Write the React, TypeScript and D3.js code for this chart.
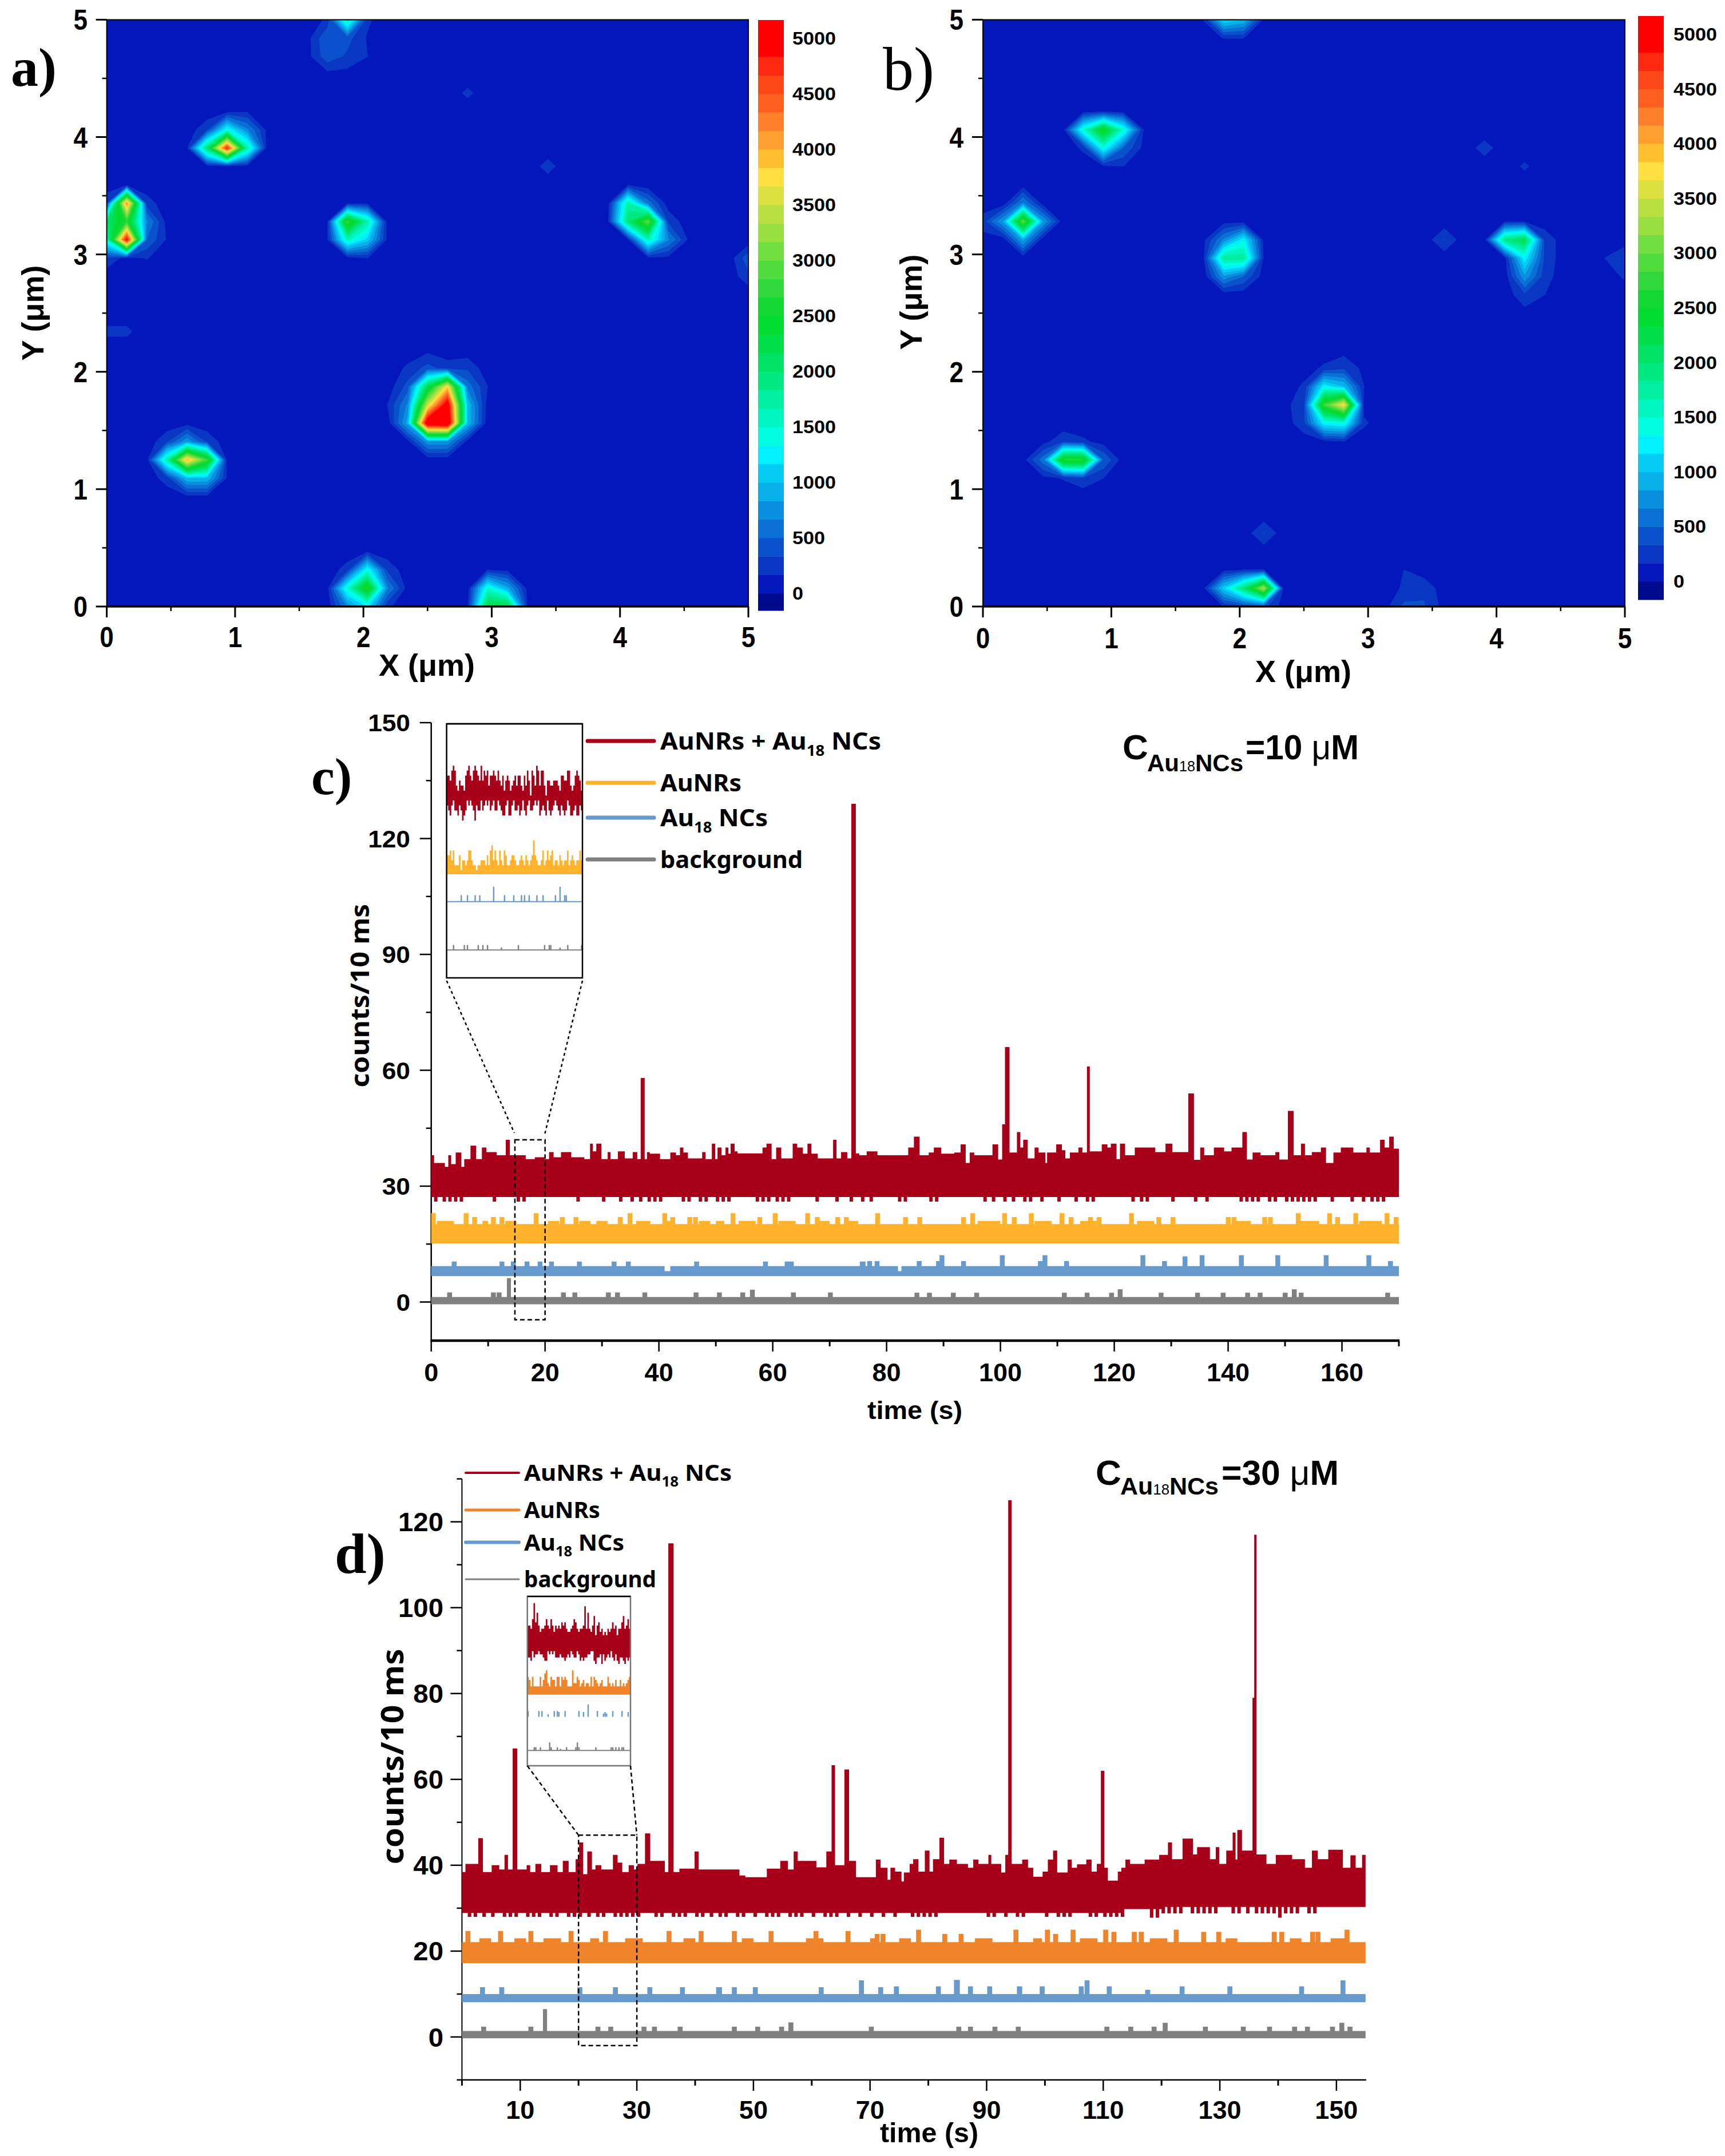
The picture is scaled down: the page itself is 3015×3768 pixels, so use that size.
import React from "react";
import * as d3 from "d3";

// ---- scanning maps (a, b): 33 x 33 grid, step 5/32 um. rows are [j, first i, values]
const gridN = 33;
const mapBackground = 60;
const mapARows = [
  [23, 1, [100]], [22, 0, [300, 4200, 250]], [21, 0, [2000, 2700, 700, 100]], [20, 0, [1500, 5000, 500, 150]], [19, 0, [300, 100, 180]],
  [27, 6, [100, 150]], [26, 5, [300, 1400, 700, 120]], [25, 4, [150, 2000, 4800, 1700, 100]], [24, 5, [100, 100, 100]],
  [22, 12, [120, 120]], [21, 11, [150, 2800, 1700, 80]], [20, 11, [150, 1600, 1100, 120]], [19, 12, [100, 170]],
  [23, 26, [150]], [22, 25, [100, 1700, 600, 80]], [21, 25, [150, 2000, 3000, 300]], [20, 26, [150, 1600, 700, 150]], [19, 27, [120, 120]],
  [14, 16, [120]], [13, 15, [200, 400, 250, 300]], [12, 15, [400, 2200, 3800, 600, 170]], [11, 14, [170, 700, 3500, 5200, 1000, 80]], [10, 15, [900, 5400, 5500, 1000]], [9, 15, [100, 800, 800, 100]],
  [10, 4, [100]], [9, 3, [300, 800, 300]], [8, 2, [100, 1700, 4000, 2800, 100]], [7, 3, [250, 1000, 1000, 150]], [6, 4, [120, 120]],
  [3, 13, [150]], [2, 12, [250, 1400, 300]], [1, 11, [100, 1500, 2700, 700, 100]], [0, 12, [700, 1200, 200]],
  [2, 19, [170, 120]], [1, 18, [80, 1500, 900, 100]], [0, 18, [150, 2300, 2300, 120]],
  [32, 11, [200, 1700, 200]], [31, 10, [100, 500, 400, 150]], [30, 10, [100, 450, 300, 170]], [29, 11, [100, 100]],
  [28, 18, [210]], [24, 22, [240]], [15, 0, [210, 210]], [19, 32, [450]], [18, 32, [280]], [9, 27, [170]],
];
const mapBRows = [
  [23, 2, [80]], [22, 1, [60, 700, 80]], [21, 0, [250, 850, 3000, 850, 60]], [20, 0, [100, 60, 900, 60]],
  [27, 5, [100, 150, 100]], [26, 4, [100, 1500, 2600, 1500, 170]], [25, 5, [200, 1400, 500, 120]], [24, 6, [130, 170]],
  [21, 12, [100, 100]], [20, 11, [120, 700, 1300, 120]], [19, 11, [150, 1800, 1800, 150]], [18, 11, [60, 800, 500, 80]],
  [21, 26, [150, 150]], [20, 25, [100, 1900, 2200, 300]], [19, 26, [100, 1300, 300]], [18, 27, [800, 250]], [17, 27, [300, 170]], [16, 27, [100]],
  [14, 18, [100]], [13, 16, [80, 200, 300, 120]], [12, 16, [200, 1300, 1000, 170]], [11, 15, [100, 300, 2800, 3800, 100]], [10, 16, [300, 1300, 1400, 200]], [9, 17, [120, 170]],
  [9, 3, [100, 300, 200, 100]], [8, 2, [100, 600, 2700, 2700, 500, 80]], [7, 3, [120, 180, 300, 170]],
  [2, 12, [120, 170, 170, 100]], [1, 11, [130, 1100, 2000, 3400, 100]], [0, 12, [170, 300, 400, 80]],
  [32, 11, [170, 1200, 1000, 120]], [31, 11, [130, 170, 170]],
  [2, 21, [170]], [1, 21, [200, 300]], [0, 20, [100, 380, 350, 100]],
  [4, 14, [350]], [20, 23, [350]], [25, 25, [250]], [24, 27, [200]], [19, 31, [170, 350]], [18, 32, [200]],
];
const mapTicks = [0, 1, 2, 3, 4, 5];
const mapMinorTicks = [0.5, 1.5, 2.5, 3.5, 4.5];
const barLabels = [0, 500, 1000, 1500, 2000, 2500, 3000, 3500, 4000, 4500, 5000];
const bandStep = 500 / 3;
const bandColors = [
  "#000A8C", "#0317BA", "#0A36C4", "#0A52CC", "#0A70D6", "#0A8EE0", "#08B0EA", "#04CCF4",
  "#00F0FF", "#00FFE0", "#00F6C0", "#00EFA0", "#00E880", "#00E264", "#00DE48", "#00DC30",
  "#10D830", "#30D83C", "#50DC3C", "#70DE40", "#98E040", "#B8E040", "#DCE040", "#FFE040",
  "#FFC030", "#FFA030", "#FF8028", "#FF6020", "#FF4818", "#FF2810", "#FF0000", "#FF0000",
];

// ---- time traces: envelope steps are [time, counts]; marks are [time, counts, width]
const cRedTop = [
  [0, 38], [0.5, 36], [2.4, 35], [3, 38], [3.5, 35.7], [4.3, 38.7], [5.3, 35], [5.8, 37], [6.9, 40.5], [7.9, 37], [8.9, 40], [9.7, 38.8], [11.5, 38], [13.1, 42], [13.8, 38], [16.6, 37], [18.2, 37.5], [19.9, 37], [20.7, 38.8], [21.5, 37.5], [22.8, 38.8], [24.6, 37.5], [26.9, 37], [27.9, 41], [28.4, 39], [29, 41], [29.9, 37], [31, 38.8], [31.5, 37], [32.8, 39], [34, 37.2], [35.4, 38.8], [36.2, 37], [36.8, 58], [37.5, 37], [37.9, 38.8], [38.4, 38.4], [40.2, 37], [42, 38.7], [43, 38], [43.7, 40], [44.3, 38.7], [45.1, 37.2], [47.6, 38.8], [48.2, 37], [49.3, 41], [49.9, 37], [50.3, 40], [51, 38], [51.7, 40], [52.2, 38.4], [52.6, 41], [53.3, 39], [53.8, 38.5], [58.2, 40], [58.9, 41], [59.8, 37], [60.6, 40], [61.5, 37.2], [63.5, 41], [64.3, 40], [65.3, 38.4], [66.1, 41], [66.8, 38.4], [67.9, 37.2], [70.6, 42], [71.2, 37.2], [72, 38.8], [73.1, 37.2], [73.8, 129], [74.6, 38.5],
  [75.2, 38], [76.5, 39], [78.4, 38], [83.8, 40], [84.8, 42.8], [85.8, 38], [87.4, 38.7], [88.3, 40], [89.6, 38.4], [91.9, 38.7], [93, 40.8], [93.9, 36], [94.6, 38.7], [95.4, 38], [98.6, 40.8], [99.6, 36.9], [100.3, 46], [100.8, 66], [101.6, 38.7], [102.9, 44], [103.5, 40], [104, 42], [104.8, 37.2], [106, 40], [106.7, 38.7], [107.9, 36], [108.2, 38.7], [109.8, 40.8], [110.8, 39.3], [111.4, 37.2], [112.2, 38.7], [113.7, 40], [114.4, 38.7], [115.2, 61], [115.7, 39], [117.8, 40.8], [118.8, 40], [119.4, 41], [120.4, 37], [121, 41], [121.9, 38], [123.6, 40], [127.2, 38.8], [129, 41], [130.2, 38.8], [133, 54], [134, 36.8], [135.1, 40], [135.8, 38], [137.5, 40], [139.3, 39], [140.6, 40], [142.5, 44], [143.3, 36.9], [144.3, 38.7], [145.7, 38], [148.3, 38.8], [149, 36.9], [150.5, 49.5], [151.5, 38], [152.8, 41], [153.5, 38], [154.7, 38.8], [156.3, 40], [157.2, 36], [158.5, 38.7], [159.8, 40], [162, 38.7], [164.3, 40], [164.9, 38.7], [166.7, 42], [167.5, 40], [168.3, 42.8], [169.1, 39.7],
];
const cRedDips = [0.5, 2, 3, 4, 5, 10.8, 15, 16, 25.5, 30, 33, 35, 36.5, 38, 39, 40, 44, 45, 47, 48, 50, 51, 52, 57, 58, 59, 60.5, 61.5, 62.5, 67.5, 71, 73.5, 75.5, 77, 82, 83, 87.5, 88.5, 97, 98.5, 100.5, 102, 104, 105, 107, 110, 113, 115, 116, 123, 124.5, 125.5, 130, 134, 136, 142, 143, 144, 145, 147, 148, 150, 151, 152, 153, 154, 155, 158, 161.5, 163.5, 165, 166, 167];
const cOrangeMarks = [
  [1, 21, 3], [9, 21, 1], [13, 21, 2], [20.5, 21, 2], [26, 21, 2], [29, 21, 2], [36, 21, 2.5], [41, 21, 1], [47, 21, 2], [50, 21, 1.5], [54, 21, 3], [61, 21, 3], [68, 21, 2], [73, 21, 2], [96, 21, 4], [106, 21, 3], [114, 21, 3], [124, 21, 3], [141, 21, 3], [152, 21, 4], [163, 21, 4],
  [0, 23, 0.8], [5.7, 23], [7.2, 22], [10.5, 22], [12, 22], [18, 23], [22.6, 22], [25, 22], [32.8, 22], [34.5, 23], [40.6, 23], [42, 22], [45, 22], [46, 22], [52.6, 23], [57.3, 22], [60, 23], [65.7, 23], [67.4, 22], [71, 22], [72.5, 22],
  [78, 23], [82.9, 22], [85.4, 22], [93.1, 22], [94.7, 23], [100.3, 23], [102, 22], [105, 23], [110.4, 23], [112, 22], [115.4, 22], [116.9, 22], [122.6, 23], [127.4, 22], [129.9, 22], [139.6, 22], [140.6, 22], [146, 22], [147, 22], [151.9, 23], [157.4, 23], [158.8, 22], [162, 23], [167.5, 23], [169.1, 22],
];
const cBlueMarks = [
  [3.6, 10.5], [12, 10.5], [14, 10.5], [16.4, 10.5], [18.7, 10.5], [20.7, 10.5], [25.6, 10.5], [31.7, 10.5], [34.2, 10.5], [41, 8, 1], [46.2, 10.5], [58.3, 10.5], [62.1, 10.5, 1.6], [75.3, 10.5, 1],
  [76.6, 10.6], [77.9, 10.6], [82, 8, 0.6], [85.3, 10.6], [88.7, 10.6], [89.3, 12.1], [93.1, 10.6], [99.9, 12.1], [106.6, 10.6], [107.4, 12.1], [111.2, 10.6], [124.6, 12.1], [128.4, 10.6], [132, 11.8], [135, 12.1], [141.9, 12.1], [148.3, 12.1], [156.8, 12.1], [164.3, 12.1], [168.1, 10.6],
];
const cGrayMarks = [
  [2.8, 2.5], [10.5, 2.5], [11.5, 2.5], [13.3, 6.2, 0.7], [22.8, 2.5], [24.8, 2.5], [30.7, 2.5], [32.3, 2.5], [37.1, 2.5], [46.1, 2.5], [50.2, 2.5], [54.3, 2.5], [56, 3.2], [63.2, 2.5], [69.7, 2.5],
  [84.9, 2.4], [87.1, 2.4], [91.3, 2.4], [95.4, 2.4], [110.8, 2.4], [114.8, 2.4], [119.1, 2.4], [120.6, 3.3], [127.8, 2.4], [134.2, 2.4], [138.7, 2.4], [143, 2.4], [145.2, 2.4], [149.6, 2.4], [151.2, 3.3], [152.4, 2.4], [167.6, 2.4],
];
const dRedTop = [
  [0, 38.4], [0.6, 40.3], [2.8, 46.3], [3.6, 38.4], [5.1, 40], [6.4, 39], [7.3, 42.4], [7.9, 39], [8.7, 67.2], [9.5, 39], [11.1, 40], [11.7, 38.4], [12.6, 40.3], [13.6, 38.4], [15.1, 40], [16.4, 38.4], [17.3, 41], [18.3, 38.4], [19.5, 41.4], [20.1, 45.3], [20.8, 37.9], [21.5, 43.2], [22.3, 39], [22.9, 40], [23.9, 39], [25.9, 42.4], [26.7, 40.6], [27.5, 38.4], [28.6, 40], [29.5, 39], [30.1, 40.3], [31.4, 47.4], [32.3, 41], [34.8, 38.4], [35.4, 115], [36.3, 38.4], [37.3, 39.2], [39.9, 43.2], [40.6, 39], [47.6, 37.6], [48.6, 37.2], [52.3, 39.2], [54.6, 41], [55.9, 39], [56.9, 43.2], [57.6, 41], [60.8, 39.5], [62.5, 43.2], [63.4, 63.3], [64, 40], [65.6, 62.3], [66.4, 41], [67.6, 37.2],
  [71, 41.3], [71.8, 39.4], [73, 36.6], [73.5, 39.4], [74.3, 38.5], [75.4, 36.2], [75.8, 38.3], [76.8, 40.3], [77.4, 41.4], [78.3, 38.5], [79.4, 43.4], [80.2, 38.5], [80.8, 41.4], [81.9, 46.4], [82.7, 40.3], [83.6, 41.3], [84.9, 40.3], [86.8, 39.4], [87.7, 41.3], [88.6, 40.3], [90.3, 42.4], [90.8, 40.3], [92.5, 38.3], [93.2, 42.4], [93.7, 125], [94.3, 40.3], [96.1, 41.3], [97.1, 39.4], [98, 37.3], [99.6, 38.5], [100.5, 41.3], [101.4, 43.4], [102.1, 38.3], [103.9, 41.3], [104.6, 39.4], [105.5, 40.2], [107.1, 41.3], [108, 38.5], [108.9, 40.3], [109.6, 62], [110.2, 39.4], [110.8, 36.4], [112.5, 38.5], [113.1, 39.4], [113.8, 41.3], [114.6, 40.3], [117.1, 41.3], [119.6, 42.4], [121.1, 45.3], [121.8, 41.4], [123.6, 46.2], [125.4, 42.5], [126.1, 44.2], [128.3, 41.4], [129.3, 44.2], [129.9, 40.3], [131.1, 43.4], [132.2, 47.6], [132.7, 41.3], [133, 48.2], [133.8, 43.4], [135.6, 79], [135.9, 117], [136.3, 42.5], [138, 40.3], [139.6, 42.4], [142.4, 41.4], [144.6, 39.4], [145.8, 43.4], [146.8, 41.4], [148.6, 43.6], [151.1, 39.4], [152.4, 42.3], [153.3, 39.4], [154.4, 42.4],
];
const dRedBottomBase = [[0, 28.9], [113, 29.8], [120, 30.3]];
const dRedDips = [
  [1, 28], [2, 28], [3.5, 28], [5, 28], [7, 28], [8, 28], [9, 28], [11, 28], [12, 28], [13, 28], [15, 28], [16, 28], [18, 28], [19, 28], [20, 28], [21.5, 28], [23, 28], [24, 28], [26, 28], [27, 28], [28, 28], [29, 28], [30, 28], [33, 28], [34, 28], [36, 28], [37, 28], [38, 28], [40, 28], [41, 28], [42.5, 28], [44, 28], [45, 28], [47, 28], [48, 28], [50, 28], [52, 28], [53, 28], [54, 28], [56, 28], [57, 28], [58, 28], [60, 28], [62, 28], [63, 28], [64, 28], [66, 28], [68, 28], [70, 28], [72, 28], [74, 28], [77, 28], [78, 28], [79, 28], [80, 28], [81, 28], [90, 28], [91, 28], [93, 28], [95, 28], [96, 28], [100, 28], [102, 28], [103, 28], [104, 28], [107.5, 28], [108.5, 28], [110, 28], [111, 28], [112, 28], [113, 28], [118, 27.8], [119, 27.8], [120, 28.8],
  [121, 28.8], [122, 28.8], [123, 28.8], [125, 28.8], [126, 28.8], [127, 28.8], [128, 28.8], [129, 28.8], [132, 28.8], [133, 28.8], [134.5, 28.8], [136, 28.8], [137, 28.8], [138, 28.8], [139, 28.8], [140, 27.8], [141, 28.8], [142, 28.8], [143, 28.8], [145, 28.8], [146, 28.8],
];
const dOrangeMarks = [
  [3, 23, 2], [9, 23, 2], [14, 23, 3], [22, 23, 1.5], [28, 23, 3], [38, 23, 2], [48, 23, 2], [59, 23, 3], [70, 23, 1], [75, 23, 2], [88, 23, 3], [98, 23, 1.5], [106, 23, 3], [118, 23, 3], [131, 23, 2], [142, 23, 2], [149, 23, 3],
  [0.6, 24.7], [6.2, 24.7], [11.4, 24.7], [18.3, 24.7], [24.2, 24.7], [35.1, 24.7], [40.6, 24.7], [46.3, 24.7], [52.6, 24.7], [60.3, 24.7], [65.8, 24.7], [70.8, 24], [71.8, 24], [77.9, 25], [82.4, 24], [85.2, 24], [94.6, 25], [100, 25], [101.4, 24], [104.4, 25], [110, 25], [111.4, 24.5], [114.9, 24.5], [116.1, 24.5], [122.1, 25], [126.8, 24.5], [129.4, 24.5], [138.9, 24.5], [140.2, 24.5], [145.5, 24.5], [146.4, 24.5], [151.4, 25],
];
const dBlueMarks = [
  [3.1, 11.6], [6.4, 11.6], [19.8, 11.6], [25.9, 11.6], [31.8, 11.6], [37.4, 11.6], [43.6, 11.6, 1], [46.3, 11.6], [49.9, 11.6], [61.2, 11.6], [68.1, 13.2], [71.4, 11.6],
  [74.1, 11.8], [81.3, 11.8], [84.4, 13.3, 1], [86.8, 11.8], [90.1, 11.8], [95.2, 11.8, 0.9], [99.1, 11.8], [105.8, 11.8], [106.8, 13.2], [110.6, 11.8], [117.2, 11], [123.1, 11.8], [131.3, 11.8], [143.6, 11.8], [150.7, 13.2],
];
const dGrayMarks = [
  [3.3, 2.4], [11.4, 2.4], [13.9, 6.5, 0.7], [22.9, 2.4], [25.1, 2.4], [30.8, 2.4], [32.6, 2.4], [37, 2.4], [46.3, 2.4], [50.3, 2.4], [54.4, 2.4], [56, 3.4], [69.8, 2.4], [84.8, 2.4], [86.8, 2.4], [91, 2.4], [95, 2.4], [110.2, 2.4], [114.3, 2.4], [118.3, 2.4], [120.2, 3.3], [127.1, 2.4], [133.6, 2.4], [138.1, 2.4], [142.4, 2.4], [144.6, 2.4], [148.9, 2.4], [150.5, 3.3], [151.9, 2.4],
];

// ---- insets: one value per bar
const cInsetRedTop = [35, 35, 34, 36, 37, 36, 33, 32, 34, 33, 33, 32, 35, 36, 37, 35, 34, 36, 37, 36, 35, 34, 37, 34, 36, 35, 36, 33, 35, 35, 36, 35, 34, 36, 34, 33, 35, 32, 34, 35, 34, 32, 33, 34, 35, 33, 35, 35, 33, 32, 35, 33, 36, 34, 31, 36, 35, 33, 37, 36, 33, 36, 36, 33, 31, 34, 34, 33, 33, 34, 34, 34, 33, 32, 35, 35, 34, 34, 36, 36, 33, 32, 33, 35, 36, 35, 34, 32];
const cInsetRedBottom = [29, 28, 27, 29, 30, 28, 28, 27, 29, 28, 26, 27, 28, 30, 29, 30, 29, 28, 26, 29, 28, 28, 30, 28, 29, 30, 29, 30, 28, 29, 30, 28, 28, 30, 29, 28, 27, 27, 29, 30, 27, 27, 29, 30, 28, 28, 29, 27, 28, 30, 28, 27, 29, 30, 28, 28, 29, 30, 29, 30, 27, 28, 29, 28, 27, 30, 28, 27, 28, 29, 30, 29, 28, 27, 29, 28, 27, 28, 30, 29, 27, 27, 28, 29, 27, 27, 29, 28];
const cInsetOrangeTop = [19, 19, 20, 18, 20, 17, 17, 17, 19, 16, 18, 18, 17, 18, 20, 20, 18, 17, 17, 16, 17, 17, 18, 18, 18, 17, 19, 17, 20, 21, 18, 20, 18, 17, 20, 18, 17, 20, 19, 17, 17, 18, 19, 19, 18, 17, 17, 18, 19, 18, 17, 19, 18, 17, 18, 19, 22, 19, 18, 17, 17, 18, 20, 17, 18, 20, 18, 19, 20, 17, 18, 18, 17, 19, 18, 17, 18, 18, 20, 17, 18, 19, 18, 17, 18, 18, 20, 18];
const cInsetBlueSpikes = [[9, 11], [13, 11], [18, 11], [21, 11], [30, 12.7], [37, 11], [43, 11], [48, 11], [50, 11], [53, 11], [58, 11], [62, 11], [70, 11], [73, 12.7], [76, 11], [77, 11]];
const cInsetGraySpikes = [[4, 1], [11, 1], [13, 1], [20, 1], [23, 1], [26, 1], [35, 0.5], [46, 1], [63, 1], [66, 1], [67, 1], [73, 0.5], [78, 1], [87, 1]];
const dInsetRedTop = [39, 39, 38, 41, 46, 40, 43, 39, 37, 38, 38, 39, 41, 39, 38, 41, 39, 37, 39, 38, 39, 38, 40, 39, 40, 38, 37, 37, 38, 39, 41, 40, 38, 37, 38, 38, 39, 45, 38, 43, 38, 37, 39, 42, 36, 39, 40, 37, 38, 36, 37, 36, 38, 37, 38, 40, 38, 39, 36, 38, 38, 40, 42, 38, 39, 41, 38];
const dInsetRedBottom = [29, 29, 28, 31, 29, 30, 30, 31, 30, 30, 29, 28, 28, 31, 30, 31, 30, 31, 29, 29, 29, 30, 29, 29, 28, 29, 30, 29, 31, 30, 29, 29, 31, 30, 28, 29, 28, 29, 29, 30, 30, 31, 31, 28, 27, 29, 29, 30, 27, 30, 28, 29, 30, 29, 31, 29, 28, 30, 28, 27, 29, 29, 28, 27, 29, 28, 29];
const dInsetOrangeTop = [23, 22, 20, 23, 20, 20, 20, 20, 23, 20, 22, 24, 25, 21, 20, 23, 22, 22, 20, 23, 23, 20, 23, 22, 23, 22, 20, 20, 20, 25, 21, 21, 23, 22, 20, 21, 22, 20, 21, 21, 20, 23, 20, 23, 22, 21, 20, 21, 22, 20, 20, 20, 23, 21, 20, 21, 20, 22, 20, 20, 22, 20, 21, 20, 21, 22, 23];
const dInsetBlueSpikes = [[0, 12.3], [7, 12.3], [9, 12.3], [13, 11.3], [17, 12.3], [19, 12.3], [20, 12], [24, 12.3], [33, 12.3], [36, 12], [39, 14.4], [45, 12.3], [49, 11.5], [50, 12], [51, 11.5], [55, 12.3], [61, 12.3], [65, 12]];
const dInsetGraySpikes = [[4, 1], [5, 1], [8, 1], [14, 2.5], [15, 1], [19, 1], [21, 0.5], [25, 1], [31, 1], [32, 2.5], [33, 1], [44, 1], [54, 1], [55, 1], [57, 1], [59, 1], [61, 1], [62, 1]];

const red = "#A90019";
const amber = "#FFB32D";
const orange = "#F0842A";
const blue = "#6699CC";
const gray = "#808080";
const sans = "'Liberation Sans', Arial, sans-serif";
const wide = "'Noto Sans', sans-serif";
const serif = "'Liberation Serif', serif";

type Step = number[];

const paint = (base: number, marks: number[][], end: number, w = 0.85): Step[] => {
  const cuts = new Set<number>([0, end]);
  marks.forEach((m) => {
    cuts.add(m[0]);
    cuts.add(m[0] + (m[2] ?? w));
  });
  return [...cuts].sort((a, b) => a - b).map((c) => {
    let v = base;
    marks.forEach((m) => {
      if (c >= m[0] && c < m[0] + (m[2] ?? w)) v = m[1];
    });
    return [c, v];
  });
};

const stepValue = (steps: Step[], t: number) => {
  let v = steps[0][1];
  for (const s of steps) {
    if (s[0] <= t) v = s[1];
    else break;
  }
  return v;
};

const envelope = (top: Step[], bottom: Step[], end: number) => {
  const ts = [...new Set([...top.map((s) => s[0]), ...bottom.map((s) => s[0]), end])].sort((a, b) => a - b);
  return ts.filter((t) => t <= end).map((t) => ({ t, hi: stepValue(top, t), lo: stepValue(bottom, t) }));
};

const T = ({ x, y, size, anchor = "start", sx = 1, rotate = 0, font = sans, weight = 700, len, children }: any) => (
  <text
    transform={`translate(${x},${y}) rotate(${rotate}) scale(${sx},1)`}
    fontFamily={font}
    fontSize={size}
    fontWeight={weight}
    textAnchor={anchor}
    fill="#000"
    textLength={len}
    lengthAdjust={len ? "spacingAndGlyphs" : undefined}
  >
    {children}
  </text>
);

const ScanMap = ({ id, rows, left, right, top, bottom, barX, barTop, barBottom, zeroY, topLabelY, labelX, tickRight, xTickY, xLabel, xLabelX, xLabelY, yLabelX, yLabelY }: any) => {
  const x = d3.scaleLinear().domain([0, 5]).range([left, right]);
  const y = d3.scaleLinear().domain([0, 5]).range([bottom, top]);
  const bar = d3.scaleLinear().domain([0, 5000]).range([zeroY, topLabelY]);
  const values = new Array(gridN * gridN).fill(mapBackground);
  rows.forEach(([j, i0, vals]: any) => vals.forEach((v: number, k: number) => { values[i0 + k + gridN * j] = v; }));
  const levels = d3.range(1, 31).map((k) => k * bandStep);
  const contours = d3.contours().size([gridN, gridN]).thresholds(levels)(values);
  const cell = 5 / (gridN - 1);
  const path = d3.geoPath(d3.geoTransform({
    point(px: number, py: number) {
      (this as any).stream.point(x((px - 0.5) * cell), y((py - 0.5) * cell));
    },
  }));
  return (
    <g>
      <clipPath id={id}><rect x={left} y={top} width={right - left} height={bottom - top} /></clipPath>
      <g clipPath={`url(#${id})`}>
        <rect x={left} y={top} width={right - left} height={bottom - top} fill={bandColors[1]} />
        {contours.map((c, k) => <path key={k} d={path(c as any) || ""} fill={bandColors[k + 2]} />)}
      </g>
      <path d={`M${left},${bottom}V${top}H${right}V${bottom}`} fill="none" stroke="#000" strokeWidth={2} />
      <line x1={left - 1} x2={right + 1} y1={bottom} y2={bottom} stroke="#000" strokeWidth={3.5} />
      {mapTicks.map((t) => (
        <g key={t}>
          <line x1={x(t)} x2={x(t)} y1={bottom} y2={bottom + 19} stroke="#000" strokeWidth={3} />
          <line x1={left} x2={left - 19} y1={y(t)} y2={y(t)} stroke="#000" strokeWidth={3} />
          <T x={x(t)} y={xTickY} size={50} anchor="middle" sx={0.88}>{t}</T>
          <T x={tickRight} y={y(t) + 18} size={50} anchor="end" sx={0.88}>{t}</T>
        </g>
      ))}
      {mapMinorTicks.map((t) => (
        <g key={t}>
          <line x1={x(t)} x2={x(t)} y1={bottom} y2={bottom + 8} stroke="#000" strokeWidth={2.5} />
          <line x1={left} x2={left - 8} y1={y(t)} y2={y(t)} stroke="#000" strokeWidth={2.5} />
        </g>
      ))}
      <T x={xLabelX} y={xLabelY} size={54} anchor="middle">{xLabel}</T>
      <T x={yLabelX} y={yLabelY} size={54} anchor="middle" rotate={-90}>{xLabel.replace("X", "Y")}</T>
      {bandColors.map((c, b) => {
        const lower = (b - 1) * bandStep;
        const y0 = b === 0 ? barBottom : bar(lower);
        const y1 = b === bandColors.length - 1 ? barTop : bar(lower + bandStep);
        return <rect key={b} x={barX} width={45} y={y1} height={y0 - y1 + 0.5} fill={c} />;
      })}
      {barLabels.map((v) => (
        <T key={v} x={labelX} y={bar(v) + 11} size={31} sx={1.1}>{v}</T>
      ))}
    </g>
  );
};

const Trace = ({ x, y, rows, color }: any) => {
  const area = d3.area<any>().x((d) => x(d.t)).y0((d) => y(d.lo)).y1((d) => y(d.hi)).curve(d3.curveStepAfter);
  return <path d={area(rows) || ""} fill={color} />;
};

const Inset = ({ box, yDomain, redTop, redBottom, midColor, midTop, midBase, blueSpikes, blueBase, grayLine, graySpikes, drawBlueLine, frame }: any) => {
  const n = redTop.length;
  const x = d3.scaleLinear().domain([0, n]).range([box.x0, box.x1]);
  const y = d3.scaleLinear().domain(yDomain).range([box.y1, box.y0]);
  const bars = (hi: number[], lo: (i: number) => number) => [
    ...hi.map((v, i) => ({ t: i, hi: v, lo: lo(i) })),
    { t: n, hi: hi[n - 1], lo: lo(n - 1) },
  ];
  return (
    <g>
      <Trace x={x} y={y} rows={bars(redTop, (i) => redBottom[i])} color={red} />
      <Trace x={x} y={y} rows={bars(midTop, () => midBase)} color={midColor} />
      {blueSpikes.map((s: number[], i: number) => (
        <line key={i} x1={x(s[0] + 0.5)} x2={x(s[0] + 0.5)} y1={y(blueBase)} y2={y(s[1])} stroke={blue} strokeWidth={2.4} />
      ))}
      {drawBlueLine && <line x1={box.x0} x2={box.x1} y1={y(blueBase)} y2={y(blueBase)} stroke={blue} strokeWidth={2} />}
      {graySpikes.map((s: number[], i: number) => (
        <line key={i} x1={x(s[0] + 0.5)} x2={x(s[0] + 0.5)} y1={y(grayLine)} y2={y(s[1])} stroke={gray} strokeWidth={2.4} />
      ))}
      <line x1={box.x0} x2={box.x1} y1={y(grayLine)} y2={y(grayLine)} stroke={gray} strokeWidth={2} />
      <rect x={box.x0} y={box.y0} width={box.x1 - box.x0} height={box.y1 - box.y0} fill="none" stroke={frame} strokeWidth={2.5} />
      <line x1={box.x0} x2={box.x1} y1={box.y0} y2={box.y0} stroke="#000" strokeWidth={2.5} />
    </g>
  );
};

const Legend = ({ rows, x0, x1, tx, size }: any) => (
  <g>
    {rows.map((r: any) => (
      <g key={r.y}>
        <line x1={x0} x2={x1} y1={r.y} y2={r.y} stroke={r.color} strokeWidth={r.w} strokeLinecap="round" />
        <text x={tx} y={r.y + size * 0.36} fontFamily={wide} fontSize={size} fontWeight={700} textLength={r.len} lengthAdjust="spacingAndGlyphs">
          {r.sub ? r.label[0] : r.label}
          {r.sub && <tspan fontSize={size * 0.62} dy={size * 0.26}>{r.sub}</tspan>}
          {r.sub && <tspan dy={-size * 0.26}>{r.label[1]}</tspan>}
        </text>
      </g>
    ))}
  </g>
);

const Conc = ({ cx, subX, eqX, base, subBase, num, subLen, eqLen, cSize, subSize }: any) => (
  <g fontFamily={sans} fontWeight={700}>
    <text x={cx} y={base} fontSize={cSize}>C</text>
    <text x={subX} y={subBase} fontSize={subSize} textLength={subLen} lengthAdjust="spacingAndGlyphs">
      Au<tspan fontSize={subSize * 0.6} fontWeight={400}>18</tspan>NCs
    </text>
    <text x={eqX} y={base} fontSize={cSize} textLength={eqLen} lengthAdjust="spacingAndGlyphs">
      ={num} <tspan fontWeight={400}>μ</tspan>M
    </text>
  </g>
);

const TimeAxes = ({ x, y, major, minor, yMajor, yMinor, labelRight, tickY, axisW, yW, xLabels, yLabels, labelSize }: any) => {
  const [x0, x1] = x.range();
  const [y0, y1] = y.range();
  return (
    <g>
      <line x1={x0} x2={x0} y1={y0} y2={y1} stroke="#000" strokeWidth={yW} />
      <line x1={x0 - yW / 2} x2={x1 + 1} y1={y0} y2={y0} stroke="#000" strokeWidth={axisW} />
      {major.map((t: number) => <line key={t} x1={x(t)} x2={x(t)} y1={y0} y2={y0 + 19} stroke="#000" strokeWidth={2.5} />)}
      {minor.map((t: number) => <line key={t} x1={x(t)} x2={x(t)} y1={y0} y2={y0 + 10} stroke="#000" strokeWidth={3} />)}
      {yMajor.map((v: number) => <line key={v} x1={x0} x2={x0 - 20} y1={y(v)} y2={y(v)} stroke="#000" strokeWidth={2.5} />)}
      {yMinor.map((v: number) => <line key={v} x1={x0} x2={x0 - 9} y1={y(v)} y2={y(v)} stroke="#000" strokeWidth={2.5} />)}
      {xLabels.map((t: number) => <T key={t} x={x(t)} y={tickY} size={45} anchor="middle">{t}</T>)}
      {yLabels.map((v: number) => <T key={v} x={labelRight} y={y(v) + labelSize * 0.36} size={labelSize} anchor="end" sx={1.03}>{v}</T>)}
    </g>
  );
};

const App = () => {
  // panel c
  const cx = d3.scaleLinear().domain([0, 170]).range([753.7, 2445]);
  const cy = d3.scaleLinear().domain([-10, 150]).range([2343, 1263]);
  const cEnd = 170;
  const cSeries = [
    { rows: envelope(paint(20.2, cOrangeMarks, cEnd), [[0, 15.2]], cEnd), color: amber },
    { rows: envelope(paint(9.3, cBlueMarks, cEnd), [[0, 6.7]], cEnd), color: blue },
    { rows: envelope(paint(1.3, cGrayMarks, cEnd), [[0, -0.6]], cEnd), color: gray },
    { rows: envelope(cRedTop, paint(27.2, cRedDips.map((t) => [t, 26, 0.6]), cEnd), cEnd), color: red },
  ];
  // panel d
  const dx = d3.scaleLinear().domain([0, 155]).range([807.4, 2386.8]);
  const dy = d3.scaleLinear().domain([-10, 130]).range([3635, 2584.6]);
  const dEnd = 155;
  const dBottomSteps = (() => {
    const marks = dRedDips.map((m) => [m[0], m[1], 0.6]);
    const base = paint(0, marks, dEnd);
    const extra = dRedBottomBase.map((s) => s[0]);
    const ts = [...new Set([...base.map((s) => s[0]), ...extra])].sort((a, b) => a - b);
    return ts.map((t) => {
      const v = stepValue(base, t);
      return [t, v === 0 ? stepValue(dRedBottomBase, t) : v];
    });
  })();
  const dSeries = [
    { rows: envelope(paint(22.1, dOrangeMarks, dEnd), [[0, 17.2]], dEnd), color: orange },
    { rows: envelope(paint(10, dBlueMarks, dEnd), [[0, 8.1]], dEnd), color: blue },
    { rows: envelope(paint(1.4, dGrayMarks, dEnd), [[0, -0.3]], dEnd), color: gray },
    { rows: envelope(dRedTop, dBottomSteps, dEnd), color: red },
  ];
  const cBox = { x0: 780.6, x1: 1018, y0: 1265, y1: 1709 };
  const dBox = { x0: 921.7, x1: 1102, y0: 2790, y1: 3086 };
  const cRect = { x0: cx(14.7), x1: cx(20), y0: cy(42), y1: cy(-4.6) };
  const dRect = { x0: dx(20), x1: dx(30), y0: dy(47), y1: dy(-2) };

  return (
    <svg width={3015} height={3768} style={{ position: "absolute", left: 0, top: 0, background: "#fff" }}>
      <ScanMap
        id="clipA" rows={mapARows}
        left={186.6} right={1308} top={34.4} bottom={1060}
        barX={1325} barTop={35} barBottom={1067} zeroY={1037} topLabelY={67} labelX={1385}
        tickRight={153} xTickY={1131} xLabel="X (μm)" xLabelX={746} xLabelY={1181} yLabelX={76} yLabelY={547}
      />
      <ScanMap
        id="clipB" rows={mapBRows}
        left={1718} right={2840} top={34.4} bottom={1060}
        barX={2863} barTop={28} barBottom={1048} zeroY={1016} topLabelY={60} labelX={2925}
        tickRight={1684} xTickY={1133} xLabel="X  (μm)" xLabelX={2278} xLabelY={1192} yLabelX={1611} yLabelY={528}
      />
      <T x={19} y={150} size={96} font={serif}>a)</T>
      <T x={1543} y={157} size={108} font={serif} weight={400}>b)</T>
      <T x={544} y={1388} size={92} font={serif}>c)</T>
      <T x={585} y={2749} size={100} font={serif}>d)</T>

      <TimeAxes
        x={cx} y={cy} axisW={4.5} yW={2.5}
        major={d3.range(0, 171, 20)} minor={d3.range(10, 171, 20)}
        yMajor={d3.range(0, 151, 30)} yMinor={d3.range(15, 150, 30)}
        labelRight={717} tickY={2414} labelSize={43}
        xLabels={d3.range(0, 161, 20)} yLabels={d3.range(0, 151, 30)}
      />
      {cSeries.map((s, i) => <Trace key={i} x={cx} y={cy} rows={s.rows} color={s.color} />)}
      <Inset
        box={cBox} yDomain={[-5.6, 45.4]} redTop={cInsetRedTop} redBottom={cInsetRedBottom}
        midColor={amber} midTop={cInsetOrangeTop} midBase={15.2} blueBase={9.7} blueSpikes={cInsetBlueSpikes}
        grayLine={0} graySpikes={cInsetGraySpikes} drawBlueLine frame="#000"
      />
      <g fill="none" stroke="#000" strokeWidth={2.5}>
        <rect x={cRect.x0} y={cRect.y0} width={cRect.x1 - cRect.x0} height={cRect.y1 - cRect.y0} strokeDasharray="8 5" />
        <line x1={cBox.x0} y1={cBox.y1 + 5} x2={cRect.x0 - 1} y2={cRect.y0 - 12} strokeDasharray="5 5" />
        <line x1={cBox.x1} y1={cBox.y1 + 5} x2={cRect.x1 - 1} y2={cRect.y0 - 8} strokeDasharray="5 5" />
      </g>
      <Legend
        x0={1027} x1={1143} tx={1154} size={42}
        rows={[
          { y: 1295, color: red, w: 7, label: ["AuNRs + Au", " NCs"], sub: "18", len: 386 },
          { y: 1368, color: amber, w: 7, label: "AuNRs", len: 142 },
          { y: 1429, color: blue, w: 7, label: ["Au", " NCs"], sub: "18", len: 188 },
          { y: 1502, color: gray, w: 7, label: "background", len: 249 },
        ]}
      />
      <Conc cx={1962} subX={2005} eqX={2177} base={1327} subBase={1348} num="10" subLen={168} eqLen={198} cSize={62} subSize={42} />
      <T x={1599} y={2480} size={44} anchor="middle" len={166}>time (s)</T>
      <T x={645} y={1740} size={44} anchor="middle" rotate={-90} font={wide} len={321}>counts/10 ms</T>

      <TimeAxes
        x={dx} y={dy} axisW={2.5} yW={2}
        major={d3.range(10, 151, 20)} minor={d3.range(0, 155, 20)}
        yMajor={d3.range(0, 121, 20)} yMinor={d3.range(-10, 131, 20)}
        labelRight={775} tickY={3703} labelSize={46}
        xLabels={d3.range(10, 151, 20)} yLabels={d3.range(0, 121, 20)}
      />
      {dSeries.map((s, i) => <Trace key={i} x={dx} y={dy} rows={s.rows} color={s.color} />)}
      <Inset
        box={dBox} yDomain={[-4.8, 48.1]} redTop={dInsetRedTop} redBottom={dInsetRedBottom}
        midColor={orange} midTop={dInsetOrangeTop} midBase={17.4} blueBase={10.5} blueSpikes={dInsetBlueSpikes}
        grayLine={0} graySpikes={dInsetGraySpikes} drawBlueLine={false} frame="#777"
      />
      <g fill="none" stroke="#000" strokeWidth={2.5}>
        <rect x={dRect.x0} y={dRect.y0} width={dRect.x1 - dRect.x0} height={dRect.y1 - dRect.y0} strokeDasharray="8 5" />
        <line x1={dBox.x0} y1={dBox.y1} x2={dRect.x0} y2={dRect.y0} strokeDasharray="7 5" />
        <line x1={dBox.x1} y1={dBox.y1} x2={dRect.x1} y2={dRect.y0} strokeDasharray="7 5" />
      </g>
      <Legend
        x0={814} x1={907} tx={916} size={39}
        rows={[
          { y: 2574, color: red, w: 4, label: ["AuNRs + Au", " NCs"], sub: "18", len: 363 },
          { y: 2639, color: orange, w: 5, label: "AuNRs", len: 133 },
          { y: 2695.6, color: blue, w: 6, label: ["Au", " NCs"], sub: "18", len: 175 },
          { y: 2760, color: gray, w: 3, label: "background", len: 231 },
        ]}
      />
      <Conc cx={1915} subX={1958} eqX={2135} base={2595} subBase={2612} num="30" subLen={172} eqLen={205} cSize={62} subSize={42} />
      <T x={1624} y={3744} size={48} anchor="middle" len={172}>time (s)</T>
      <T x={705} y={3070} size={54} anchor="middle" rotate={-90} font={wide} len={377}>counts/10 ms</T>
    </svg>
  );
};

export default App;
